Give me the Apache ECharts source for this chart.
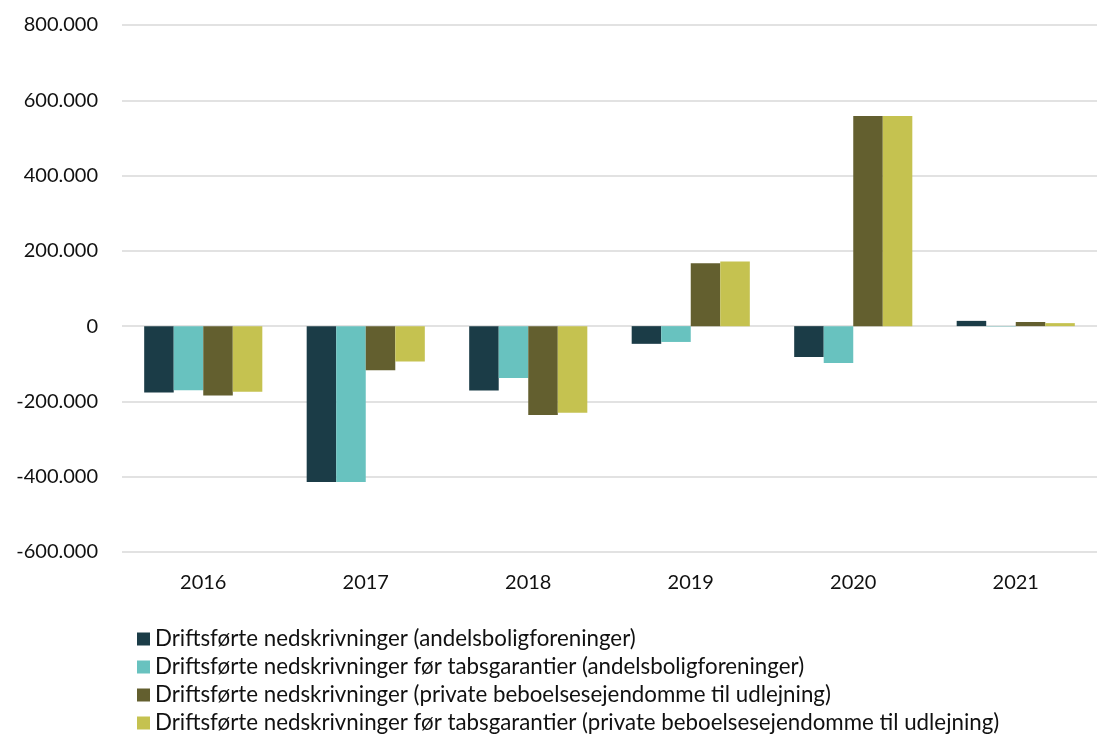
<!DOCTYPE html>
<html>
<head>
<meta charset="utf-8">
<script src="https://cdn.jsdelivr.net/npm/echarts@6/dist/echarts.min.js"></script>
<style>
  html, body { margin: 0; padding: 0; background: #fff; }
  #chart_1 { width: 1097px; height: 738px; }
</style>
</head>
<body>
<div id="chart_1"></div>
<script>
// data
var years = ['2016', '2017', '2018', '2019', '2020', '2021'];
var seriesNames = [
    'Driftsførte nedskrivninger (andelsboligforeninger)',
    'Driftsførte nedskrivninger før tabsgarantier (andelsboligforeninger)',
    'Driftsførte nedskrivninger (private beboelsesejendomme til udlejning)',
    'Driftsførte nedskrivninger før tabsgarantier (private beboelsesejendomme til udlejning)'
];
var andelNed = [-176000, -414000, -171000, -47000, -82000, 14000];
var andelFoerTab = [-170000, -414000, -138000, -42000, -98000, -1000];
var privatNed = [-184000, -117000, -236000, 167000, 558000, 11000];
var privatFoerTab = [-174000, -94000, -230000, 172000, 558000, 8000];
var yTicks = [-600000, -400000, -200000, 0, 200000, 400000, 600000, 800000];

var colors = ['#1b3c47', '#68c2bf', '#635f2f', '#c5c250'];
var fontName = 'Lato';

// 1.000-separator like the danish original
function fmt(v) {
    var s = Math.abs(v).toString().replace(/\B(?=(\d{3})+(?!\d))/g, '.');
    return (v < 0 ? '-' : '') + s;
}

function chart() {
    var allData = [andelNed, andelFoerTab, privatNed, privatFoerTab];
    var series = [];
    for (var i = 0; i < allData.length; i++) {
        series.push({
            name: seriesNames[i],
            type: 'bar',
            barGap: '0%',
            barCategoryGap: '27.3%',
            data: allData[i]
        });
    }

    var option1 = {
        color: colors,
        animation: false,
        textStyle: { fontFamily: fontName },
        legend: {
            orient: 'vertical',
            left: 137,
            top: 628,
            padding: 0,
            height: 120,
            icon: 'rect',
            itemWidth: 13,
            itemHeight: 13,
            itemGap: 6,
            textStyle: {
                fontFamily: fontName,
                fontSize: 22.3,
                color: '#111',
                lineHeight: 22,
                padding: [0, 0, 0, 0]
            },
            data: seriesNames
        },
        grid: {
            left: 122,
            right: -14,
            top: 25,
            bottom: 186,
            containLabel: false
        },
        xAxis: [{
            type: 'category',
            data: years,
            axisLine: { show: false },
            axisTick: { show: false },
            axisLabel: {
                fontFamily: fontName,
                fontSize: 20,
                color: '#111',
                margin: 21
            }
        }],
        yAxis: [{
            type: 'value',
            min: yTicks[0],
            max: yTicks[yTicks.length - 1],
            interval: 200000,
            axisLine: { show: false },
            axisTick: { show: false },
            splitLine: { lineStyle: { color: '#d9d9d9', width: 1.5 } },
            axisLabel: {
                fontFamily: fontName,
                fontSize: 20,
                color: '#111',
                margin: 24,
                formatter: fmt
            }
        }],
        series: series
    };
    var myChart1 = echarts.init(document.getElementById('chart_1'));
    myChart1.setOption(option1);
}
chart();
</script>
</body>
</html>
